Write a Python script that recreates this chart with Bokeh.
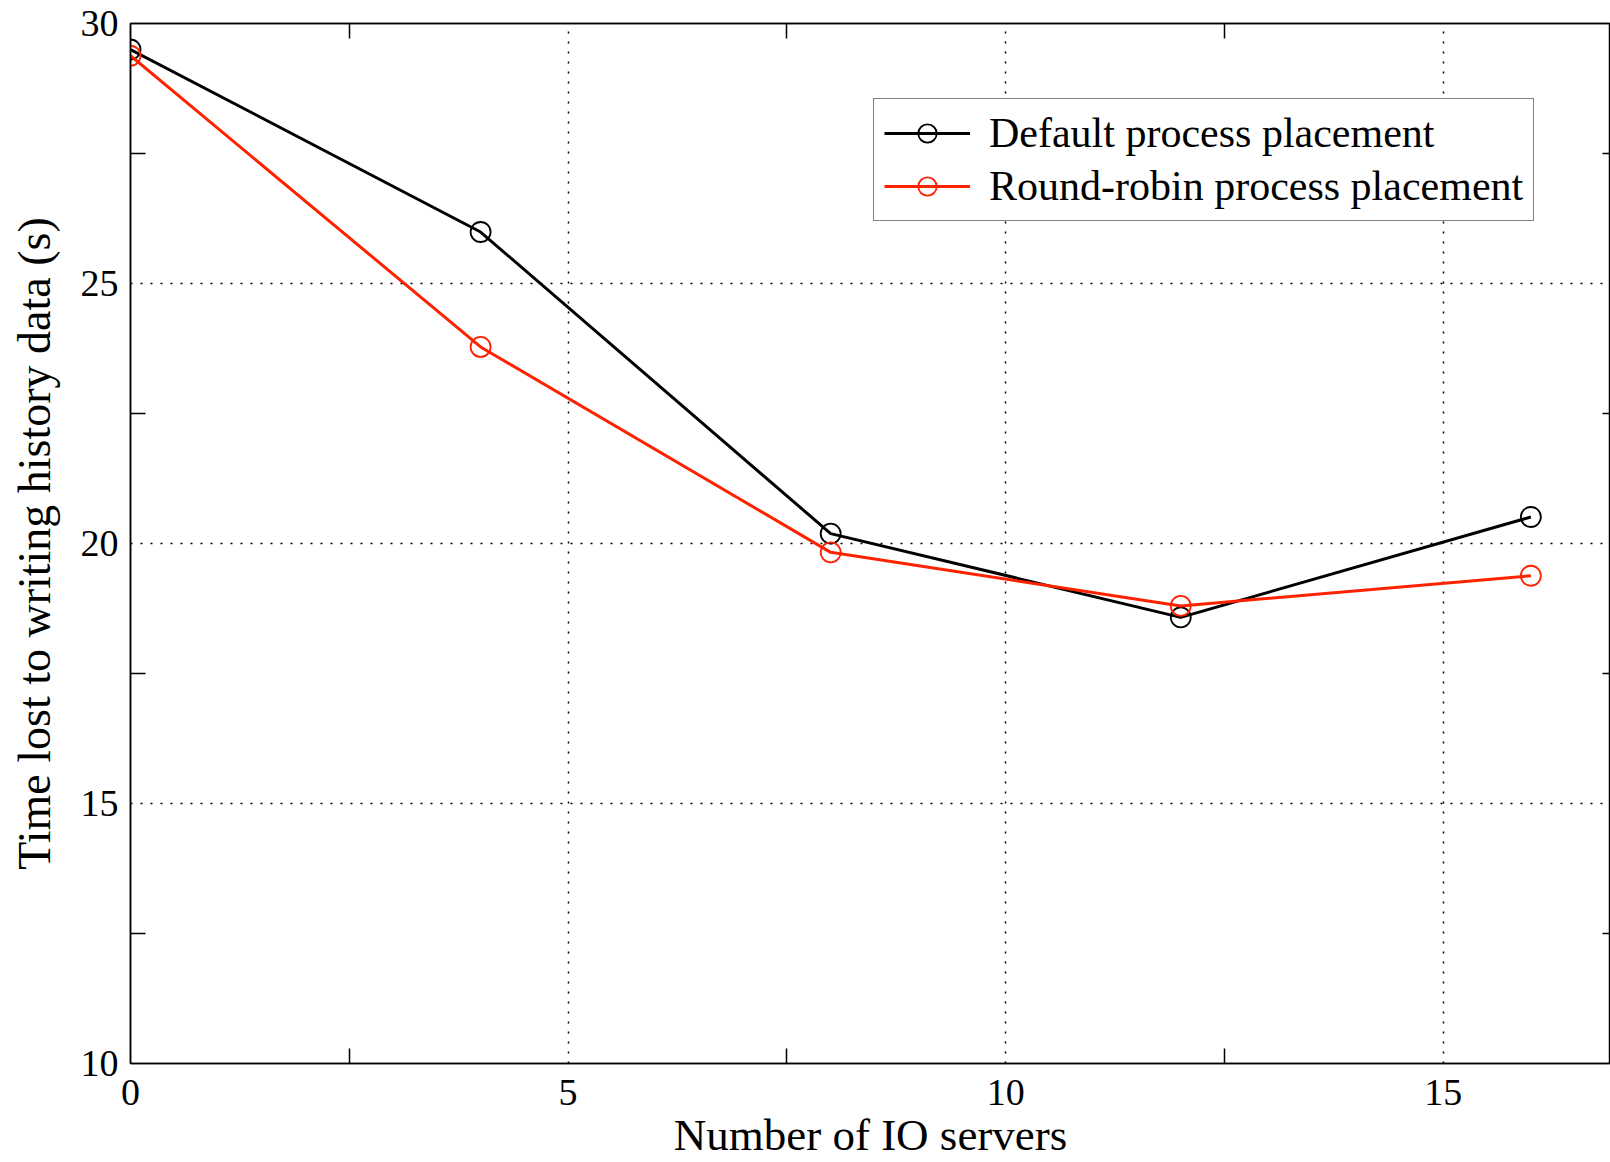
from bokeh.plotting import figure
from bokeh.models import (Range1d, FixedTicker, LinearAxis, Legend, LegendItem)
from bokeh.embed import file_html
from bokeh.resources import INLINE

# ---- data ----
io_servers = [0, 4, 8, 12, 16]
default_placement = [29.50, 25.99, 20.19, 18.58, 20.51]
roundrobin_placement = [29.38, 23.78, 19.83, 18.80, 19.38]

x_major = [0, 5, 10, 15]
x_minor = [2.5, 7.5, 12.5]
y_major = [10, 15, 20, 25, 30]
y_minor = [12.5, 17.5, 22.5, 27.5]

series_names = ["Default process placement", "Round-robin process placement"]
series_colors = ["#000000", "#ff2200"]

FONT = "Liberation Serif"

p = figure(width=1610, height=1162, output_backend="svg", toolbar_location=None,
           x_range=Range1d(0, 16.91), y_range=Range1d(10, 30),
           min_border_left=130, min_border_top=23, min_border_right=0,
           min_border_bottom=99)
p.outline_line_color = "black"
p.outline_line_width = 1.5
p.background_fill_color = "white"
p.border_fill_color = "white"

# grid
p.xgrid.ticker = FixedTicker(ticks=[5, 10, 15])
p.ygrid.ticker = FixedTicker(ticks=[15, 20, 25])
for g in (p.xgrid, p.ygrid):
    g.grid_line_color = "black"
    g.grid_line_dash = "2 8"
    g.grid_line_width = 1.5

def style_axis(ax, tick_len=15):
    ax.major_tick_in = 0
    ax.major_tick_out = 0
    ax.minor_tick_in = tick_len
    ax.minor_tick_out = 0
    ax.minor_tick_line_color = "black"
    ax.minor_tick_line_width = 1.5
    ax.axis_line_color = "black"
    ax.axis_line_width = 1.5
    ax.major_label_text_font = FONT
    ax.major_label_text_color = "black"
    ax.axis_label_text_font = FONT
    ax.axis_label_text_font_style = "normal"
    ax.axis_label_text_color = "black"

xaxis = p.xaxis[0]
xaxis.ticker = FixedTicker(ticks=x_major, minor_ticks=x_minor)
style_axis(xaxis)
xaxis.major_label_text_font_size = "38px"
xaxis.major_label_standoff = 16
xaxis.axis_label = "Number of IO servers"
xaxis.axis_label_text_font_size = "45px"
xaxis.axis_label_standoff = 2

yaxis = p.yaxis[0]
yaxis.ticker = FixedTicker(ticks=y_major, minor_ticks=y_minor)
style_axis(yaxis)
yaxis.major_label_text_font_size = "38px"
yaxis.major_label_standoff = 12
yaxis.axis_label = "Time lost to writing history data (s)"
yaxis.axis_label_text_font_size = "46px"
yaxis.axis_label_standoff = 18

# mirrored tick marks (no labels) on the top and right sides
top_axis = LinearAxis(ticker=FixedTicker(ticks=[], minor_ticks=x_minor))
style_axis(top_axis)
top_axis.major_label_standoff = 0
p.add_layout(top_axis, "above")

right_axis = LinearAxis(ticker=FixedTicker(ticks=[], minor_ticks=y_minor))
style_axis(right_axis, tick_len=8)
right_axis.major_label_standoff = 0
right_axis.axis_line_color = None
p.add_layout(right_axis, "right")

# series
items = []
for vals, name, col in zip([default_placement, roundrobin_placement], series_names, series_colors):
    ln = p.line(io_servers, vals, line_color=col, line_width=3)
    sc = p.scatter(io_servers, vals, marker="circle", size=20, fill_color=None,
                   line_color=col, line_width=1.8)
    items.append(LegendItem(label=name, renderers=[ln, sc]))

legend = Legend(items=items, location=(743, 842))
legend.label_text_font = FONT
legend.label_text_font_size = "42px"
legend.label_text_color = "black"
legend.border_line_color = "black"
legend.border_line_width = 1.5
legend.background_fill_color = "white"
legend.background_fill_alpha = 1.0
legend.padding = 10
legend.margin = 0
legend.spacing = 5
legend.glyph_width = 86
legend.glyph_height = 46
legend.label_height = 46
legend.label_standoff = 19
p.add_layout(legend, "center")

open("out.html", "w").write(file_html(p, INLINE))
